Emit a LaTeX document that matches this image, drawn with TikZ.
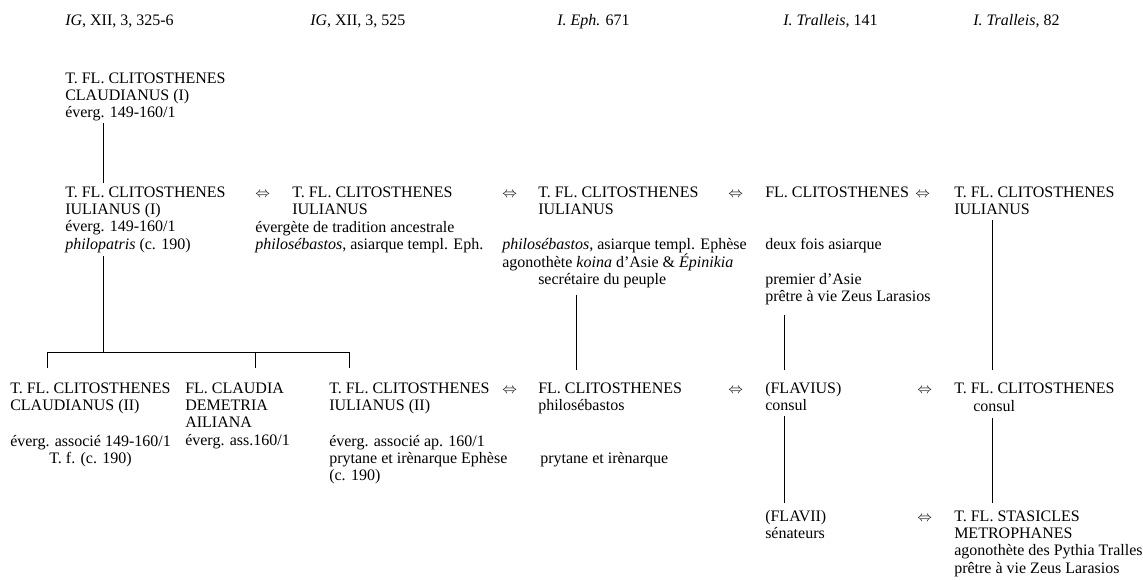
\documentclass[tikz,border=0pt]{standalone}
\usepackage{fontspec}
\setmainfont{Liberation Serif}
\usepackage{tikz}
\usetikzlibrary{calc}

\newcommand{\blk}[2][l]{\begin{tabular}[t]{@{}#1@{}}#2\end{tabular}}

\begin{document}
\begin{tikzpicture}[x=0.75pt, y=-0.75pt,
    txt/.style={anchor=base west, inner sep=0pt, font=\fontsize{12}{13}\selectfont},
    eqv/.style={anchor=base west, inner sep=0pt, font=\fontsize{11}{13}\selectfont},
    link/.style={line width=0.5pt, shorten <=0pt, shorten >=1pt}]
    \useasboundingbox (0,0) rectangle (1143,579);

    % Sources
    \node[txt] (srcA) at (65,25) {\textit{IG}, XII, 3, 325-6};
    \node[txt] (srcB) at (310,25) {\textit{IG}, XII, 3, 525};
    \node[txt] (srcC) at (557,25) {\textit{I. Eph.} 671};
    \node[txt] (srcD) at (783,25) {\textit{I. Tralleis}, 141};
    \node[txt] (srcE) at (973,25) {\textit{I. Tralleis}, 82};

    % First generation
    \node[txt] (claudI) at (65,83) {\blk{T. FL. CLITOSTHENES\\CLAUDIANUS (I)\\éverg. 149-160/1}};

    % Second generation
    \node[txt] (iulI) at (65,197) {\blk{T. FL. CLITOSTHENES\\IULIANUS (I)\\éverg. 149-160/1\\\textit{philopatris} (c. 190)}};
    \node[txt] (iulB) at (292,197) {\blk{T. FL. CLITOSTHENES\\IULIANUS}};
    \node[txt] (iulBnote) at (255,232) {\blk{évergète de tradition ancestrale\\\textit{philosébastos}, asiarque templ. Eph.}};
    \node[txt] (iulEph) at (538,197) {\blk{T. FL. CLITOSTHENES\\IULIANUS}};
    \node[txt] (iulEphnote) at (502,249) {\blk{\textit{philosébastos}, asiarque templ. Ephèse\\agonothète \textit{koina} d’Asie \& \textit{Épinikia}}};
    \node[txt] (iulEphsec) at (538,284) {\blk{secrétaire du peuple}};
    \node[txt] (cliTr) at (765,197) {\blk{FL. CLITOSTHENES}};
    \node[txt] (cliTrA) at (765,249) {\blk{deux fois asiarque}};
    \node[txt] (cliTrB) at (765,284) {\blk{premier d’Asie\\prêtre à vie Zeus Larasios}};
    \node[txt] (iulTr) at (954,197) {\blk{T. FL. CLITOSTHENES\\IULIANUS}};

    % Third generation
    \node[txt] (claudII) at (10,393) {\blk{T. FL. CLITOSTHENES\\CLAUDIANUS (II)}};
    \node[txt] (claudIInote) at (10,446) {\blk[c]{éverg. associé 149-160/1\\T. f. (c. 190)}};
    \node[txt] (claudia) at (185,393) {\blk{FL. CLAUDIA\\DEMETRIA\\AILIANA\\éverg. ass.160/1}};
    \node[txt] (iulII) at (329,393) {\blk{T. FL. CLITOSTHENES\\IULIANUS (II)}};
    \node[txt] (iulIInote) at (329,446) {\blk{éverg. associé ap. 160/1\\prytane et irènarque Ephèse\\(c. 190)}};
    \node[txt] (cliPhil) at (538,393) {\blk{FL. CLITOSTHENES\\philosébastos}};
    \node[txt] (cliPhilnote) at (540,463) {\blk{prytane et irènarque}};
    \node[txt] (flavius) at (765,393) {\blk{(FLAVIUS)\\consul}};
    \node[txt] (iulCons) at (954,393) {\blk{T. FL. CLITOSTHENES}};
    \node[txt] (iulConsnote) at (973,411) {\blk{consul}};

    % Fourth generation
    \node[txt] (flavii) at (765,521) {\blk{(FLAVII)\\sénateurs}};
    \node[txt] (stasicles) at (954,521) {\blk{T. FL. STASICLES\\METROPHANES\\agonothète des Pythia Tralles\\prêtre à vie Zeus Larasios}};

    % Identities
    \node[eqv] (eqA) at (255,197) {$\Leftrightarrow$};
    \node[eqv] (eqB) at (502,197) {$\Leftrightarrow$};
    \node[eqv] (eqC) at (728,197) {$\Leftrightarrow$};
    \node[eqv] (eqD) at (915,197) {$\Leftrightarrow$};
    \node[eqv] (eqE) at (502,393) {$\Leftrightarrow$};
    \node[eqv] (eqF) at (728,393) {$\Leftrightarrow$};
    \node[eqv] (eqG) at (917,393) {$\Leftrightarrow$};
    \node[eqv] (eqH) at (917,521) {$\Leftrightarrow$};

    % Line positions
    \coordinate (tA) at (103,0);
    \coordinate (bar) at (0,352);
    \coordinate (dA) at (47,0);
    \coordinate (dB) at (255,0);
    \coordinate (dC) at (349,0);
    \coordinate (cD) at (576,0);
    \coordinate (cE) at (784,0);
    \coordinate (cF) at (992,0);

    % Descent lines
    \draw[link] (claudI.south -| tA) -- (iulI.north -| tA);
    \draw[link, shorten <=1pt, shorten >=0pt] (iulI.south -| tA) -- (tA |- bar);
    \draw[line width=0.5pt] (dA |- bar) -- (dC |- bar);
    \foreach \d/\n in {dA/claudII, dB/claudia, dC/iulII}
        \draw[link, shorten >=9.5pt] (\d |- bar) -- (\n.north -| \d);
    \draw[link, shorten <=4pt, shorten >=8pt] (iulEphsec.south -| cD) -- (cliPhil.north -| cD);
    \draw[link, shorten <=6.5pt, shorten >=8pt] (cliTrB.south -| cE) -- (flavius.north -| cE);
    \draw[link, shorten >=8pt] (iulTr.south -| cF) -- (iulCons.north -| cF);
    \draw[link, shorten >=4.5pt] (flavius.south -| cE) -- (flavii.north -| cE);
    \draw[link, shorten <=1.5pt, shorten >=4.5pt] (iulConsnote.south -| cF) -- (stasicles.north -| cF);
\end{tikzpicture}
\end{document}
